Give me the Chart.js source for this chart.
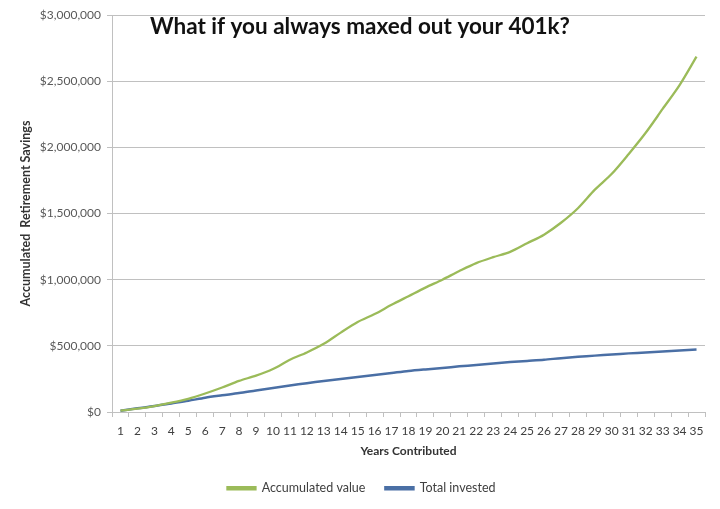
<!DOCTYPE html>
<html>
<head>
<meta charset="utf-8">
<script src="https://cdn.jsdelivr.net/npm/chart.js@4"></script>
<style>
  html, body { margin: 0; padding: 0; background: #fff; }
  #wrap { width: 720px; height: 509px; }
</style>
</head>
<body>
<div id="wrap"><canvas id="myChart"></canvas></div>
<script>
// years on the x axis
const years = [];
for (let i = 1; i <= 35; i++) years.push(String(i));

// accumulated value
const accumulatedValue = [
    10000, 25000, 45000, 70000, 100000, 140000, 185000, 235000, 275000, 325000,
    395000, 450000, 515000, 600000, 680000, 740000, 810000, 875000, 940000, 1000000,
    1065000, 1125000, 1170000, 1210000, 1275000, 1340000, 1430000, 1540000, 1680000, 1800000,
    1950000, 2110000, 2290000, 2470000, 2685000
];

// total invested
const totalInvested = [
    10000, 28000, 45000, 65000, 85000, 108000, 126000, 143000, 163000, 182000,
    200000, 218000, 235000, 250000, 265000, 280000, 295000, 310000, 322000, 333000,
    345000, 355000, 367000, 377000, 386000, 395000, 407000, 417000, 426000, 435000,
    443000, 450000, 458000, 465000, 472000
];

const yTicks = [0, 500000, 1000000, 1500000, 2000000, 2500000, 3000000];

const chartTitle = "What if you always maxed out your 401k?";

const GREEN = "#9bbb59";
const BLUE = "#4a6fa5";
const GRID = "#c0c0c0";
const FONT = "Lato, 'Open Sans', sans-serif";

// title sits inside the plot area like in the Excel chart
const titlePlugin = {
    id: "insideTitle",
    afterDraw(chart) {
        const c = chart.ctx;
        c.save();
        c.font = "bold 22.5px " + FONT;
        c.fillStyle = "#111";
        c.textAlign = "center";
        c.textBaseline = "alphabetic";
        c.fillText(chartTitle, 360, 34);
        c.restore();
    }
};

window.onload = function() {
    const ctx = document.getElementById("myChart").getContext("2d");
    new Chart(ctx, {
        type: "line",
        data: {
            labels: years,
            datasets: [
                {
                    label: "Accumulated value",
                    data: accumulatedValue,
                    borderColor: GREEN,
                    backgroundColor: GREEN,
                    borderWidth: 2.3,
                    pointRadius: 0,
                    tension: 0.3,
                },
                {
                    label: "Total invested",
                    data: totalInvested,
                    borderColor: BLUE,
                    backgroundColor: BLUE,
                    borderWidth: 2.5,
                    pointRadius: 0,
                    tension: 0.3,
                },
            ],
        },
        options: {
            responsive: true,
            maintainAspectRatio: false,
            animation: false,
            layout: { padding: { left: 18, right: 15, top: 15, bottom: 4.5 } },
            plugins: {
                legend: {
                    position: "bottom",
                    labels: {
                        boxWidth: 28,
                        boxHeight: 2,
                        padding: 20,
                        color: "#404040",
                        font: { family: FONT, size: 12.5 },
                    },
                },
                tooltip: { enabled: false },
            },
            scales: {
                x: {
                    offset: true,
                    grid: {
                        offset: true,
                        drawOnChartArea: false,
                        drawTicks: true,
                        tickLength: 5,
                        color: GRID,
                    },
                    border: { color: GRID },
                    ticks: {
                        color: "#404040",
                        font: { family: FONT, size: 12 },
                        maxRotation: 0,
                        autoSkip: false,
                        padding: 7,
                    },
                    title: {
                        display: true,
                        text: "Years Contributed",
                        color: "#333",
                        font: { family: FONT, size: 12, weight: "bold" },
                        padding: { top: 2 },
                    },
                    afterFit(scale) { scale.height = 50; },
                },
                y: {
                    min: 0,
                    max: 3000000,
                    afterBuildTicks(scale) {
                        scale.ticks = yTicks.map(v => ({ value: v }));
                    },
                    grid: { color: GRID, tickLength: 5 },
                    border: { color: GRID },
                    ticks: {
                        color: "#595959",
                        font: { family: FONT, size: 12 },
                        padding: 6,
                        callback: v => "$" + Number(v).toLocaleString("en-US"),
                    },
                    title: {
                        display: true,
                        text: "Accumulated  Retirement Savings",
                        color: "#333",
                        font: { family: FONT, size: 12.5, weight: "bold" },
                        padding: { top: 0, bottom: 0 },
                    },
                    afterFit(scale) { scale.width = 94; },
                },
            },
        },
        plugins: [titlePlugin],
    });
};
</script>
</body>
</html>
